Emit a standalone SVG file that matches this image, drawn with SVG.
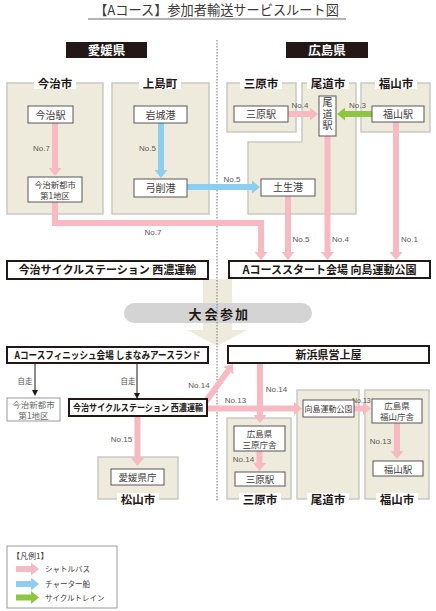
<svg xmlns="http://www.w3.org/2000/svg" width="436" height="611" viewBox="0 0 436 611">
<style>
.reg{fill:#eeebdc;stroke:#c9c9c3;stroke-width:1.5}
.st{fill:#fff;stroke:#595757;stroke-width:1}
.main{fill:#fff;stroke:#231815;stroke-width:2}
.t{font-family:"Noto Sans CJK JP",sans-serif;fill:#3e3a39;text-anchor:middle}
.b{font-weight:bold;fill:#231815}
.lbl{font-family:"Noto Sans CJK JP",sans-serif;font-weight:bold;font-size:11.5px;fill:#231815;text-anchor:middle}
.no{font-family:"Liberation Sans",sans-serif;font-size:8px;fill:#595757;text-anchor:middle}
.gap{fill:#fff}
.pk{stroke:#f7b9c2;stroke-width:6;fill:none}
.bl{stroke:#8ccdf0;stroke-width:6;fill:none}
.gn{stroke:#8dc63f;stroke-width:6;fill:none}
.bk{stroke:#231815;stroke-width:1;fill:none}
</style>
<defs>
<marker id="hp" markerUnits="userSpaceOnUse" markerWidth="8" markerHeight="13" refX="0" refY="6.5" orient="auto" viewBox="0 0 8 13"><path d="M0,0L8,6.5L0,13z" fill="#f7b9c2"/></marker>
<marker id="hb" markerUnits="userSpaceOnUse" markerWidth="8" markerHeight="13" refX="0" refY="6.5" orient="auto" viewBox="0 0 8 13"><path d="M0,0L8,6.5L0,13z" fill="#8ccdf0"/></marker>
<marker id="hg" markerUnits="userSpaceOnUse" markerWidth="8" markerHeight="13" refX="0" refY="6.5" orient="auto" viewBox="0 0 8 13"><path d="M0,0L8,6.5L0,13z" fill="#8dc63f"/></marker>
<marker id="hk" markerUnits="userSpaceOnUse" markerWidth="6" markerHeight="6" refX="0" refY="3" orient="auto" viewBox="0 0 6 6"><path d="M0,0L6,3L0,6z" fill="#231815"/></marker>
</defs>
<rect width="436" height="611" fill="#fff"/>

<g id="title">
<text x="216.5" y="15" class="t" font-size="13.2" fill="#231815">【Aコース】参加者輸送サービスルート図</text>
<line x1="88" y1="19" x2="346" y2="19" stroke="#9a9a9a" stroke-width="1.5"/>
</g>

<g id="pref-ehime"><rect x="66" y="42" width="81" height="16" fill="#231815"/><text x="106.5" y="54.5" class="t" font-size="12.5" font-weight="bold" style="fill:#fff">愛媛県</text></g>
<g id="pref-hiroshima"><rect x="286" y="42" width="82" height="16" fill="#231815"/><text x="327" y="54.5" class="t" font-size="12.5" font-weight="bold" style="fill:#fff">広島県</text></g>

<!-- regions top -->
<g id="reg-imabari"><rect class="reg" x="7" y="83" width="96" height="131"/><rect class="gap" x="34" y="77" width="42" height="12"/><text class="lbl" x="55" y="87.5">今治市</text></g>
<g id="reg-kamijima"><rect class="reg" x="112" y="83" width="97" height="131"/><rect class="gap" x="139" y="77" width="42" height="12"/><text class="lbl" x="160" y="87.5">上島町</text></g>
<g id="reg-mihara"><rect class="reg" x="227" y="83" width="69" height="49"/><rect class="gap" x="240" y="77" width="42" height="12"/><text class="lbl" x="261" y="87.5">三原市</text></g>
<g id="reg-onomichi"><path class="reg" d="M302,83H356V214H248V142H302Z"/><rect class="gap" x="307" y="77" width="42" height="12"/><text class="lbl" x="328" y="87.5">尾道市</text></g>
<g id="reg-fukuyama"><rect class="reg" x="361" y="83" width="69" height="49"/><rect class="gap" x="375" y="77" width="42" height="12"/><text class="lbl" x="396" y="87.5">福山市</text></g>

<!-- regions bottom -->
<g id="reg-matsuyama"><rect class="reg" x="98" y="457" width="80" height="42"/><rect class="gap" x="117" y="493" width="42" height="12"/><text class="lbl" x="138" y="503.5">松山市</text></g>
<g id="reg-mihara2"><rect class="reg" x="227" y="418" width="64" height="81"/><rect class="gap" x="239" y="493" width="42" height="12"/><text class="lbl" x="260" y="503.5">三原市</text></g>
<g id="reg-onomichi2"><rect class="reg" x="297" y="390" width="62" height="109"/><rect class="gap" x="307" y="493" width="42" height="12"/><text class="lbl" x="328" y="503.5">尾道市</text></g>
<g id="reg-fukuyama2"><rect class="reg" x="365" y="390" width="64" height="109"/><rect class="gap" x="376" y="493" width="42" height="12"/><text class="lbl" x="397" y="503.5">福山市</text></g>

<!-- big arrow and banner -->
<g id="taikai">
<path d="M203,279H232V330H247L217,346L187,330H203Z" fill="#eeebdc"/>
<rect x="124" y="303" width="188" height="20" rx="10" fill="#d4d4d4"/>
<text y="318.5" class="t b" font-size="13" style="text-anchor:start"><tspan x="188.5">大</tspan><tspan x="204.5">会</tspan><tspan x="220">参</tspan><tspan x="235">加</tspan></text>
</g>

<line id="divider" x1="217" y1="40" x2="217" y2="502" stroke="#777" stroke-width="1" stroke-dasharray="1.5 1.5"/>

<g id="connectors">
<line class="pk" x1="55" y1="123" x2="55" y2="168" marker-end="url(#hp)"/>
<line class="bl" x1="161" y1="123" x2="161" y2="170" marker-end="url(#hb)"/>
<polyline class="pk" points="55,202 55,223 261,223 261,252" marker-end="url(#hp)"/>
<line class="bl" x1="187" y1="187" x2="252" y2="187" marker-end="url(#hb)"/>
<line class="pk" x1="288" y1="114" x2="310" y2="114" marker-end="url(#hp)"/>
<line class="gn" x1="372" y1="114" x2="345" y2="114" marker-end="url(#hg)"/>
<line class="pk" x1="327.5" y1="136" x2="327.5" y2="252" marker-end="url(#hp)"/>
<line class="pk" x1="396" y1="122" x2="396" y2="252" marker-end="url(#hp)"/>
<line class="pk" x1="288" y1="196" x2="288" y2="252" marker-end="url(#hp)"/>
<text class="no" x="41.5" y="151">No.7</text>
<text class="no" x="147.5" y="151">No.5</text>
<text class="no" x="153" y="235">No.7</text>
<text class="no" x="232" y="182">No.5</text>
<text class="no" x="301" y="242">No.5</text>
<text class="no" x="340.5" y="242">No.4</text>
<text class="no" x="409.5" y="242">No.1</text>
<text class="no" x="300" y="108">No.4</text>
<text class="no" x="357.5" y="108">No.3</text>

<line class="bk" x1="35" y1="363" x2="35" y2="390" marker-end="url(#hk)"/>
<line class="bk" x1="137" y1="363" x2="137" y2="393" marker-end="url(#hk)"/>
<text class="no" x="25" y="384" style="font-family:'Noto Sans CJK JP',sans-serif;font-size:7.5px">自走</text>
<text class="no" x="128" y="384" style="font-family:'Noto Sans CJK JP',sans-serif;font-size:7.5px">自走</text>
<line class="pk" x1="137.5" y1="416" x2="137.5" y2="458" marker-end="url(#hp)"/>
<line class="pk" x1="204" y1="404" x2="228.3" y2="370.5" marker-end="url(#hp)"/>
<line class="pk" x1="207" y1="408.5" x2="294" y2="408.5" marker-end="url(#hp)"/>
<line class="pk" x1="260" y1="363" x2="260" y2="415" marker-end="url(#hp)"/>
<line class="pk" x1="354" y1="408.5" x2="363" y2="408.5" marker-end="url(#hp)"/>
<line class="pk" x1="259.5" y1="451" x2="259.5" y2="463" marker-end="url(#hp)"/>
<line class="pk" x1="397" y1="423" x2="397" y2="451" marker-end="url(#hp)"/>
<text class="no" x="121.5" y="442">No.15</text>
<text class="no" x="199" y="388">No.14</text>
<text class="no" x="235.5" y="403">No.13</text>
<text class="no" x="276.5" y="392">No.14</text>
<text class="no" x="352" y="403" style="text-anchor:start;font-size:7px">No.13</text>
<text class="no" x="243.5" y="462">No.14</text>
<text class="no" x="380.5" y="444">No.13</text>
</g>

<!-- top nodes -->
<g id="imabari-st"><rect class="st" x="28" y="106" width="45" height="17"/><text class="t" x="50.5" y="118.5" font-size="10">今治駅</text></g>
<g id="iwagi"><rect class="st" x="134" y="106" width="53" height="17"/><text class="t" x="160.5" y="118.5" font-size="10">岩城港</text></g>
<g id="shintoshi"><rect class="st" x="28" y="177" width="54" height="25"/><text class="t" font-size="8.3"><tspan x="55" y="188">今治新都市</tspan><tspan x="55" y="199">第1地区</tspan></text></g>
<g id="yuge"><rect class="st" x="134" y="179" width="53" height="18"/><text class="t" x="160.5" y="191.5" font-size="10">弓削港</text></g>
<g id="habu"><rect class="st" x="261" y="179" width="54" height="17"/><text class="t" x="288" y="191" font-size="10">土生港</text></g>
<g id="mihara-st"><rect class="st" x="234" y="106" width="54" height="16"/><text class="t" x="261" y="117.5" font-size="10">三原駅</text></g>
<g id="onomichi-st"><rect class="st" x="319" y="96" width="17" height="40"/><text class="t" x="327.5" y="97.5" font-size="10" writing-mode="vertical-rl" style="text-anchor:start" letter-spacing="1.5">尾道駅</text></g>
<g id="fukuyama-st"><rect class="st" x="372" y="106" width="52" height="16"/><text class="t" x="398" y="117.5" font-size="10">福山駅</text></g>
<g id="cycle-top"><rect class="main" x="7" y="261" width="201" height="18"/><text class="t b" x="107.5" y="274" font-size="11">今治サイクルステーション 西濃運輸</text></g>
<g id="start"><rect class="main" x="229" y="261" width="201" height="17"/><text class="t b" x="329.5" y="273.5" font-size="11">Aコーススタート会場 向島運動公園</text></g>

<!-- bottom nodes -->
<g id="finish"><rect class="main" x="7" y="347" width="201" height="16"/><text class="t b" x="107.5" y="358.8" font-size="10" textLength="186" lengthAdjust="spacingAndGlyphs">Aコースフィニッシュ会場 しまなみアースランド</text></g>
<g id="niihama"><rect class="main" x="228" y="346" width="201" height="17"/><text class="t b" x="328.5" y="358.5" font-size="11">新浜県営上屋</text></g>
<g id="shintoshi2"><rect x="7" y="398" width="53" height="23" fill="#fff" stroke="#9a9a9a" stroke-width="1"/><text class="t" font-size="8.5" style="fill:#6a6a6a"><tspan x="33.5" y="408">今治新都市</tspan><tspan x="33.5" y="418.5">第1地区</tspan></text></g>
<g id="cycle-bottom"><rect class="main" x="69" y="399" width="138" height="17"/><text class="t b" x="138" y="411" font-size="9.5" textLength="130" lengthAdjust="spacingAndGlyphs">今治サイクルステーション 西濃運輸</text></g>
<g id="ehime-pref"><rect class="st" x="111" y="469" width="53" height="16"/><text class="t" x="137.5" y="480.5" font-size="9.5">愛媛県庁</text></g>
<g id="mihara-office"><rect class="st" x="234" y="426" width="51" height="25"/><text class="t" font-size="8.5"><tspan x="259.5" y="436.5">広島県</tspan><tspan x="259.5" y="447.5">三原庁舎</tspan></text></g>
<g id="mihara-st2"><rect class="st" x="235" y="472" width="50" height="14"/><text class="t" x="260" y="482.5" font-size="9.5">三原駅</text></g>
<g id="mukaishima"><rect class="st" x="303" y="400" width="51" height="17"/><text class="t" x="328.5" y="411.5" font-size="8">向島運動公園</text></g>
<g id="fukuyama-office"><rect class="st" x="372" y="399" width="50" height="24"/><text class="t" font-size="8.5"><tspan x="397" y="409">広島県</tspan><tspan x="397" y="420">福山庁舎</tspan></text></g>
<g id="fukuyama-st2"><rect class="st" x="373" y="461" width="50" height="15"/><text class="t" x="398" y="472.5" font-size="9.5">福山駅</text></g>

<g id="legend">
<rect x="7" y="546" width="110" height="62" fill="#fff" stroke="#9a9a9a" stroke-width="1"/>
<text class="t" x="12" y="559" font-size="8" style="text-anchor:start">【凡例1】</text>
<line class="pk" x1="16" y1="569" x2="31" y2="569" stroke-width="7" marker-end="url(#hp)"/>
<line class="bl" x1="16" y1="584" x2="31" y2="584" stroke-width="7" marker-end="url(#hb)"/>
<line class="gn" x1="16" y1="597.5" x2="31" y2="597.5" stroke-width="7" marker-end="url(#hg)"/>
<text class="t" x="45" y="572" font-size="7.5" style="text-anchor:start">シャトルバス</text>
<text class="t" x="45" y="587" font-size="7.5" style="text-anchor:start">チャーター船</text>
<text class="t" x="45" y="600.5" font-size="7.5" style="text-anchor:start">サイクルトレイン</text>
</g>
</svg>
